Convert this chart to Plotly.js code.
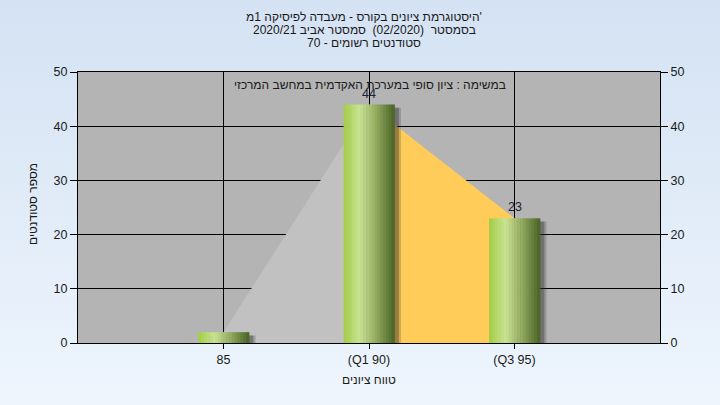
<!DOCTYPE html>
<html><head><meta charset="utf-8">
<script src="https://cdn.plot.ly/plotly-3.0.1.min.js"></script>
<style>
html,body{margin:0;padding:0;width:720px;height:405px;overflow:hidden;background:linear-gradient(to bottom,#d4e2f3,#eef5fd);}
#chart{width:720px;height:405px;}
</style>
</head><body><div id="chart"></div>
<script>
// ---- data ----
const categories = ["85", "(Q1 90)", "(Q3 95)"];
const students = [2, 44, 23];
const yTickVals = [0, 10, 20, 30, 40, 50];
const titleLines = [
  "היסטוגרמת ציונים בקורס - מעבדה לפיסיקה 1מ'",
  "בסמסטר  (02/2020)  סמסטר אביב 2020/21",
  "סטודנטים רשומים - 70"
];
const noteText = "במשימה : ציון סופי במערכת האקדמית במחשב המרכזי";
const xTitle = "טווח ציונים";
const yTitle = "מספר סטודנטים";

// ---- helpers ----
const FAMILY = "Liberation Sans";
function hex(c){ return [parseInt(c.slice(1,3),16),parseInt(c.slice(3,5),16),parseInt(c.slice(5,7),16)]; }
const stops = [[0,"#a2cc42"],[0.15,"#b4d86a"],[0.32,"#c9e495"],[0.48,"#aec57a"],[0.64,"#92ab5e"],[0.82,"#6c8642"],[1,"#4a6124"]];
function gradAt(t){
  for(let i=1;i<stops.length;i++){
    if(t<=stops[i][0]){
      const a=stops[i-1], b=stops[i];
      const f=(t-a[0])/(b[0]-a[0]);
      const ca=hex(a[1]), cb=hex(b[1]);
      return "rgb("+ca.map((v,k)=>Math.round(v+(cb[k]-v)*f)).join(",")+")";
    }
  }
  return stops[stops.length-1][1];
}

const L=78, R=60, T=72, B=62, W=720, H=405;
const pw = W-L-R, ph = H-T-B;
const pxX = px => (px-L)/pw;
const pxY = py => (H-B-py)/ph;

const barW = 0.35;
const nSlices = 18;
const traces = [];

// area segments (base subplot, below bars)
traces.push({type:"scatter", x:[categories[0],categories[1]], y:[students[0],students[1]],
  mode:"none", fill:"tozeroy", fillcolor:"#c1c1c1", hoverinfo:"skip", showlegend:false});
traces.push({type:"scatter", x:[categories[1],categories[2]], y:[students[1],students[2]],
  mode:"none", fill:"tozeroy", fillcolor:"#ffcc5a", hoverinfo:"skip", showlegend:false});

// shadows (overlay subplot)
[[0.045,"rgba(50,50,50,0.22)"],[0.03,"rgba(40,40,40,0.35)"]].forEach(([off,col])=>{
  traces.push({type:"bar", x:categories, y:students.map(v=>v-0.6), width:barW, offset:-barW/2+off,
    xaxis:"x2", yaxis:"y2", marker:{color:col, line:{width:0}}, hoverinfo:"skip", showlegend:false});
});

// gradient bar slices
const sw = barW/nSlices;
for(let i=0;i<nSlices;i++){
  traces.push({type:"bar", x:categories, y:students, width:sw*1.15, offset:-barW/2+i*sw,
    xaxis:"x2", yaxis:"y2",
    marker:{color:gradAt((i+0.5)/nSlices), line:{width:0}}, hoverinfo:"skip", showlegend:false});
}

const font = {family:FAMILY+", Arial, sans-serif", size:12, color:"#1a1a1a"};
const annotations = [];
const titleY = [17,30,43];
titleLines.forEach((t,i)=>{
  annotations.push({text:t, xref:"paper", yref:"paper", x:pxX(364), y:pxY(titleY[i]),
    xanchor:"center", yanchor:"middle", showarrow:false, borderpad:0, font:font});
});
annotations.push({text:noteText, xref:"paper", yref:"paper", x:pxX(369.5), y:pxY(85),
  xanchor:"center", yanchor:"middle", showarrow:false, borderpad:0, font:font});
annotations.push({text:xTitle, xref:"paper", yref:"paper", x:pxX(368.5), y:pxY(380),
  xanchor:"center", yanchor:"middle", showarrow:false, borderpad:0, font:font});
annotations.push({text:yTitle, xref:"paper", yref:"paper", x:pxX(33), y:pxY(204), textangle:-90,
  xanchor:"center", yanchor:"middle", showarrow:false, borderpad:0, font:font});

// value labels
categories.forEach((c,i)=>{
  annotations.push({text:String(students[i]), xref:"x", yref:"y", x:c, y:students[i],
    xanchor:"center", yanchor:"bottom", yshift:3, showarrow:false, borderpad:0,
    font:{family:FAMILY+", Arial, sans-serif", size:12.5, color:"#1a2233"}});
});

const tickFont = {family:FAMILY+", Arial, sans-serif", size:12.5, color:"#1a1a1a"};
const layout = {
  width:W, height:H,
  margin:{l:L, r:R, t:T, b:B, pad:0},
  paper_bgcolor:"rgba(0,0,0,0)", plot_bgcolor:"#b4b4b4",
  barmode:"overlay", showlegend:false,
  xaxis:{type:"category", categoryorder:"array", categoryarray:categories, range:[-1,3],
    showgrid:true, gridcolor:"#000", gridwidth:1, showline:true, linecolor:"#000", linewidth:1, mirror:true,
    ticks:"outside", ticklen:5, tickcolor:"#000", tickfont:tickFont, zeroline:false, fixedrange:true},
  xaxis2:{type:"category", categoryorder:"array", categoryarray:categories, range:[-1,3],
    overlaying:"x", visible:false, fixedrange:true},
  yaxis:{range:[0,50], tickvals:yTickVals, showgrid:true, gridcolor:"#000", gridwidth:1,
    showline:true, linecolor:"#000", linewidth:1, ticks:"outside", ticklen:7, tickcolor:"#000",
    tickfont:tickFont, zeroline:false, fixedrange:true},
  yaxis2:{range:[0,50], tickvals:yTickVals, overlaying:"y", side:"right", showgrid:false,
    showline:true, linecolor:"#000", linewidth:1, ticks:"outside", ticklen:7, tickcolor:"#000",
    tickfont:tickFont, zeroline:false, fixedrange:true},
  annotations:annotations
};
Plotly.newPlot("chart", traces, layout, {staticPlot:true, displayModeBar:false});
</script>
</body></html>
